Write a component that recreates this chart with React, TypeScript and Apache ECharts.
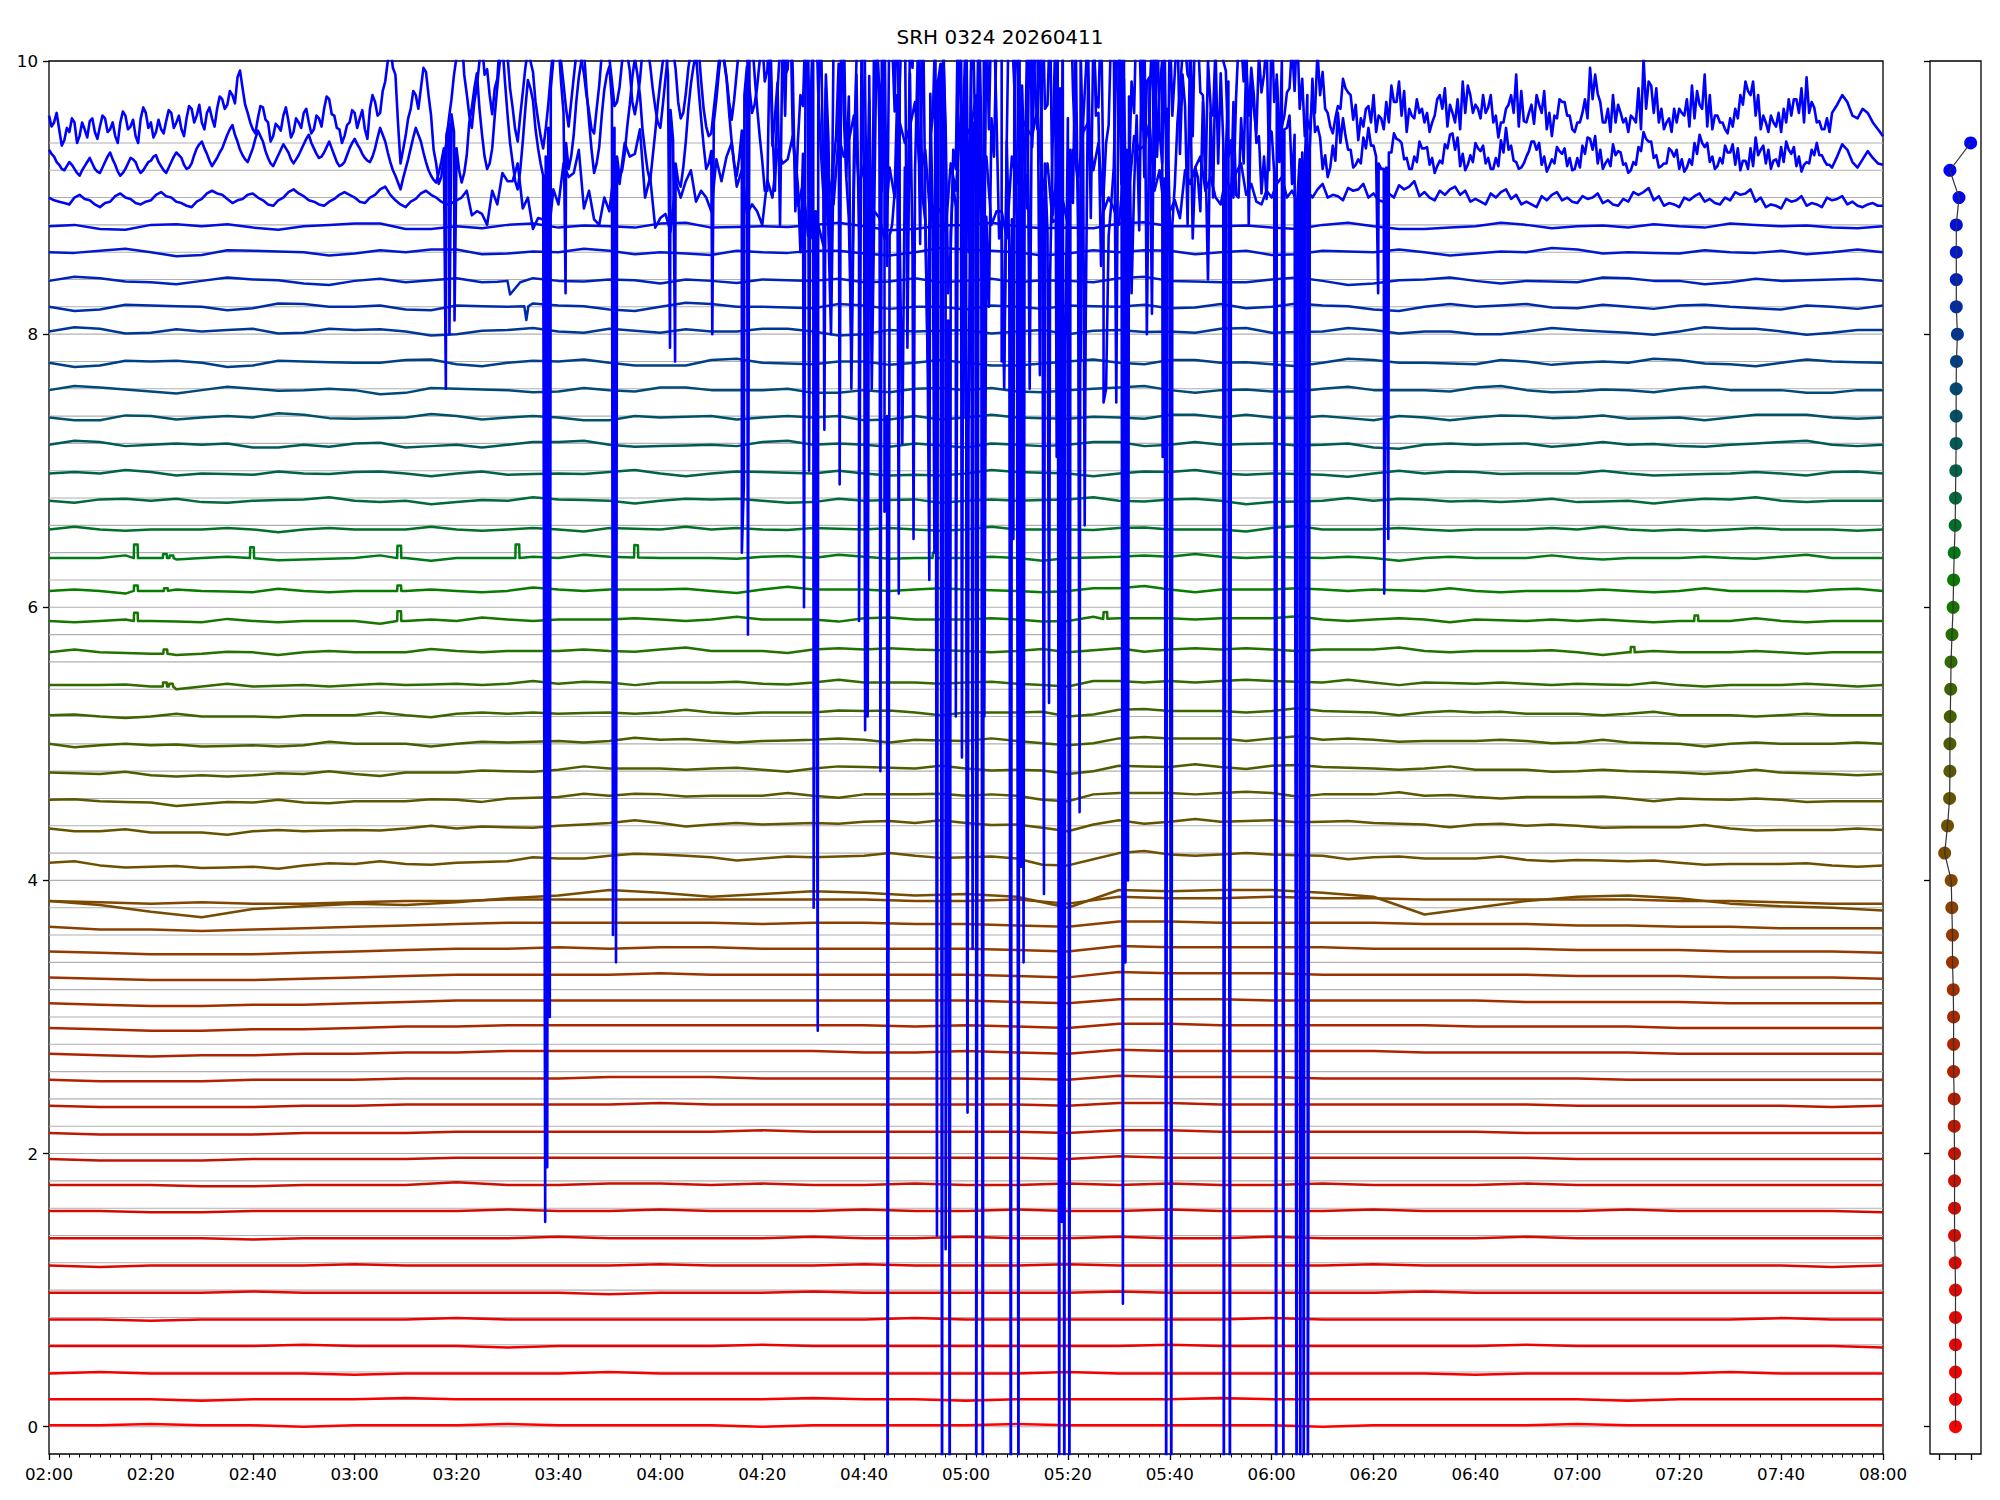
import { useEffect, useRef } from "react";
import * as echarts from "echarts";

const TITLE = "SRH 0324 20260411";
const Y_TICKS = [0, 2, 4, 6, 8, 10];
const SIDE_X_TICKS = [-1, 0, 1];

// nominal channel positions (grid lines and side-panel dots), bottom to top
const channelNominal = [
  0, 0.2, 0.4, 0.6, 0.8, 1.0, 1.2, 1.4, 1.6, 1.8, 2.0, 2.2, 2.4, 2.6, 2.8, 3.0,
  3.2, 3.4, 3.6, 3.8, 4.0, 4.2, 4.4, 4.6, 4.8, 5.0, 5.2, 5.4, 5.6, 5.8, 6.0, 6.2,
  6.4, 6.6, 6.8, 7.0, 7.2, 7.4, 7.6, 7.8, 8.0, 8.2, 8.4, 8.6, 8.8, 9.0, 9.2, 9.4,
];

// horizontal position of each channel's dot in the side panel
const dotX = [
  0, 0, 0, 0, 0, 0, -0.02, -0.06, -0.06, -0.06, -0.06, -0.08, -0.08, -0.12, -0.12, -0.12,
  -0.14, -0.19, -0.19, -0.23, -0.27, -0.68, -0.5, -0.37, -0.35, -0.35, -0.33, -0.3, -0.28, -0.22, -0.15, -0.12,
  -0.08, -0.02, 0, 0.02, 0.04, 0.04, 0.04, 0.06, 0.12, 0.05, 0.05, 0.05, 0.05, 0.22, -0.35, 0.95,
];

const channelColors = [
  "#ff0000", "#fa0000", "#f40000", "#ee0200", "#e80400", "#e20600", "#dc0800", "#d60a00",
  "#d00c00", "#ca1000", "#c41400", "#be1800", "#b81c00", "#b42000", "#ae2400", "#a82800",
  "#a22e00", "#9c3400", "#943a00", "#8c4000", "#824600", "#784c00", "#6e5000", "#645400",
  "#5a5800", "#505c00", "#466000", "#3c6400", "#306a00", "#247000", "#167600", "#087c00",
  "#007a14", "#007028", "#006a38", "#006248", "#005a58", "#005268", "#004a78", "#004088",
  "#003698", "#002caa", "#0022bc", "#0018ce", "#000ee0", "#0006f0", "#0000fa", "#0000ff",
];

// plotted level of the quiet channels 0..44 at 02:00
const traceLevel = [
  0.01, 0.2, 0.39, 0.59, 0.785, 0.98, 1.18, 1.38, 1.58, 1.77, 1.96, 2.15, 2.35, 2.54, 2.73, 2.92,
  3.1, 3.29, 3.48, 3.66, 3.85, 3.85, 4.13, 4.38, 4.59, 4.79, 5.0, 5.21, 5.43, 5.67, 5.9, 6.12,
  6.36, 6.57, 6.78, 6.98, 7.19, 7.39, 7.59, 7.79, 8.02, 8.2, 8.39, 8.6, 8.79,
];

// slow drift of channels 0..44, hundredths, every 10 minutes from 02:00 to 08:00
const slowDrift = [
  [0,0,1,0,0,-1,0,0,0,1, 0,0,0,0,-1,0,0,0,0,1, 0,0,0,0,0,-1,0,0,0,0, 1,0,0,0,0,0,0],
  [0,0,0,-1,0,0,0,1,0,0, 0,0,0,0,0,1,0,0,-1,0, 0,0,0,1,0,0,0,0,0,0, 0,-1,0,0,0,0,0],
  [0,1,0,0,0,0,-1,0,0,0, 0,1,0,0,0,0,0,0,0,0, 1,0,0,0,0,0,0,0,-1,0, 0,0,0,1,0,0,0],
  [0,0,0,0,0,1,0,0,0,-1, 0,0,0,0,1,0,0,0,0,0, 0,0,1,0,0,0,0,0,0,1, 0,0,0,0,0,0,-1],
  [0,0,-1,0,0,0,0,0,1,0, 0,0,0,0,0,0,0,1,0,0, 0,0,0,0,1,0,0,0,0,0, 0,0,0,0,1,0,0],
  [0,0,0,0,1,0,0,0,0,0, 0,-1,0,0,0,1,0,0,0,0, 0,1,0,0,0,0,0,1,0,0, 0,0,0,0,0,0,0],
  [0,-1,0,0,0,0,1,0,0,0, 0,0,1,0,0,0,1,0,0,0, 1,0,0,0,0,0,1,0,0,0, 0,0,0,0,0,-1,0],
  [0,0,0,0,-1,0,0,0,0,0, 1,0,0,0,0,1,0,0,1,0, 0,1,0,0,1,0,0,0,0,1, 0,0,0,0,0,0,0],
  [0,0,-1,-1,0,0,0,0,0,1, 0,0,1,0,0,0,1,0,0,1, 0,0,1,0,0,0,1,0,0,0, 0,1,0,0,0,0,-1],
  [0,0,0,-1,-1,0,0,0,2,0, 0,1,1,0,1,0,0,1,0,0, 1,0,1,0,0,1,0,0,0,1, 0,0,0,0,0,0,0],
  [0,-1,-1,-1,0,0,0,0,1,1, 1,1,1,1,1,1,1,1,1,1, 0,2,1,1,1,1,1,1,1,1, 0,0,0,0,0,0,0],
  [0,-1,-1,-1,-1,0,0,0,1,1, 1,1,1,1,2,1,1,1,1,1, 0,2,2,1,1,1,1,1,1,0, 0,0,0,0,0,0,0],
  [0,-1,-1,-1,-1,0,0,1,1,1, 1,1,2,1,1,1,1,1,1,1, 0,2,2,1,1,1,1,1,1,1, 0,0,0,0,0,-1,0],
  [0,-1,-1,-1,0,0,0,1,1,1, 1,2,2,2,1,1,1,1,1,1, 0,3,2,2,2,1,1,1,1,1, 1,0,0,0,0,0,0],
  [0,-1,-2,-1,-1,0,0,1,1,2, 2,2,2,2,2,2,1,1,2,1, 0,3,2,2,2,2,2,1,1,1, 1,1,0,0,0,0,0],
  [0,-1,-2,-2,-1,-1,0,1,1,2, 2,2,2,2,2,2,2,1,2,1, 0,3,3,2,2,2,2,2,1,1, 1,1,0,0,0,0,0],
  [0,-1,-2,-2,-1,-1,0,1,2,2, 2,2,2,2,2,2,2,2,2,1, 0,3,3,3,2,2,2,2,2,1, 1,1,1,0,0,0,0],
  [0,-1,-2,-2,-2,-1,0,1,2,2, 2,2,3,2,2,2,2,2,2,1, 0,4,3,3,3,2,2,2,2,2, 1,1,1,0,0,0,-1],
  [0,-1,-2,-2,-2,-1,0,1,2,2, 3,2,3,3,2,2,2,2,2,1, 0,4,3,3,3,3,2,2,2,2, 1,1,1,0,0,0,-1],
  [0,-2,-2,-3,-2,-1,0,1,2,3, 3,3,3,3,2,3,3,2,2,1, 0,4,4,3,3,3,3,2,2,2, 1,1,0,0,-1,-1,-1],
  [0,-1,-2,-1,-2,-2,-1,0,0,1, 1,1,1,1,1,1,1,0,0,1, -2,3,2,2,3,2,2,1,1,1, 1,1,0,0,-1,-2,-2],
  [0,-3,-8,-12,-6,-4,-2,-3,-1,2, 4,8,6,3,5,7,6,4,5,3, -5,8,7,8,8,6,3,-10,-5,0, 3,4,2,-2,-4,-5,-7],
  [0,-2,-3,-4,-3,-2,-1,-1,0,1, 3,5,6,4,3,4,5,5,4,3, -2,7,6,6,6,5,4,3,3,2, 2,1,0,-1,-1,-2,-2],
  [0,-2,-3,-3,-2,-2,-1,0,0,1, 2,4,4,3,3,4,5,4,4,3, -2,6,5,5,6,5,4,3,3,2, 2,1,1,0,-1,-1,-1],
  [0,-1,-2,-3,-2,-2,-1,-1,0,1, 2,3,4,3,3,3,4,4,3,3, -1,5,5,5,5,4,4,3,2,2, 2,1,1,0,0,-1,-1],
  [0,-1,-2,-2,-2,-1,-1,0,0,1, 2,3,3,3,2,3,4,3,3,2, -1,5,4,4,5,4,3,3,2,2, 1,1,0,0,0,-1,-1],
  [0,-1,-1,-2,-1,-1,0,0,0,1, 2,2,3,2,2,3,3,3,2,2, -1,4,4,4,4,3,3,2,2,2, 1,1,0,0,0,0,0],
  [0,-1,-1,-1,-1,0,0,0,1,1, 1,2,2,2,2,2,3,2,2,2, -1,4,3,3,3,3,2,2,2,1, 1,1,0,0,0,0,0],
  [0,0,-1,-1,-1,0,0,0,1,1, 1,2,2,2,1,2,2,2,2,1, -1,3,3,3,3,2,2,2,1,1, 1,0,0,0,0,0,0],
  [0,0,-1,-1,0,0,0,0,1,1, 1,1,2,1,1,2,2,2,1,1, 0,3,2,2,2,2,2,1,1,1, 0,0,0,0,0,0,0],
  [0,0,0,-1,0,0,0,0,0,1, 1,1,1,1,1,1,2,1,1,1, 0,2,2,2,2,1,1,1,1,0, 0,0,0,0,0,0,0],
  [0,0,0,0,-1,0,0,0,0,0, 1,1,1,0,1,1,1,1,1,0, 0,2,1,1,1,1,1,0,0,0, 0,0,0,0,0,1,0],
  [0,0,0,0,0,-1,0,0,0,0, 0,1,0,0,1,0,1,0,0,0, 0,1,1,1,1,0,0,0,0,0, 0,0,0,0,1,0,0],
  [0,0,0,0,0,0,0,0,0,0, 0,1,0,0,0,1,0,0,0,0, 0,1,0,0,1,0,0,0,0,0, 0,0,0,0,0,0,0],
  [0,1,0,-1,0,1,0,0,-1,0, 1,0,0,1,0,-1,0,1,0,0, 1,0,1,0,-1,0,0,1,0,0, -1,0,0,1,0,0,0],
  [0,0,1,0,-1,0,1,0,0,-1, 0,1,0,0,1,0,0,-1,0,1, 0,0,1,0,0,-1,0,0,1,0, 0,0,-1,0,0,1,0],
  [0,2,0,0,-2,0,1,-2,0,0, 2,0,-1,0,2,0,0,1,-2,0, 0,2,0,0,1,0,-2,0,0,1, 0,0,-1,0,2,0,0],
  [0,-2,1,0,0,2,-1,0,1,0, 0,-2,0,1,0,0,-2,1,0,0, -1,0,2,0,0,1,-2,0,0,1, 0,-1,0,0,2,0,0],
  [0,2,-1,0,1,0,0,-2,1,0, -1,0,2,0,0,-2,0,1,0,-1, 0,2,0,0,-1,1,0,0,2,0, -1,0,1,0,0,-2,0],
  [0,-2,1,0,-2,1,0,2,-1,0, 1,0,-2,2,0,-1,1,0,0,-2, 1,0,2,0,-1,0,2,0,-1,1, 0,0,2,-1,0,1,0],
  [0,2,-1,0,2,-1,1,0,-2,1, 0,2,-1,0,2,0,-2,0,1,0, -2,1,0,2,-1,0,1,0,-2,0, 1,-1,0,2,0,-1,1],
  [0,-2,1,0,-1,2,0,-2,1,0, 1,-2,0,2,0,-1,1,0,-2,0, 1,0,-1,2,0,1,-2,0,0,2, -1,0,1,0,-2,0,1],
  [0,2,-1,0,1,-2,0,-1,2,0, 0,1,-2,0,1,0,-1,2,0,-1, 0,2,0,-1,1,0,-2,1,0,0, -1,2,0,-1,0,1,0],
  [0,1,0,-2,1,0,-1,0,2,-1, 0,1,0,-2,0,1,-1,0,2,0, -1,0,1,0,-2,1,0,0,-1,0, 2,0,-1,0,1,0,0],
  [0,-2,1,0,-1,0,2,-2,0,1, -1,0,2,-1,0,1,0,-2,1,0, -1,2,0,0,-1,1,0,-2,0,1, 0,-1,0,2,0,-1,0],
];

// short-period ripple of channels 22..44, hundredths, at 5, 15, ..., 355 minutes
const rippleFirst = 22;
const ripple = [
  [2,-1,1,0,-2,1,2,-1,0,2, -1,1,0,-2,1,0,2,-1,1,-2, 0,2,-1,1,0,-2,1,0,2,-1, 0,1,-1,0,1,-1],
  [-1,2,0,-2,1,0,-1,2,1,-1, 0,2,-2,1,0,-1,1,2,-1,0, 1,-2,2,0,-1,1,0,-2,1,1, -1,0,2,-1,0,1],
  [1,0,-2,1,2,-1,0,1,-2,0, 2,1,-1,0,2,-2,0,1,1,-1, 2,0,-1,1,-2,0,2,1,-1,0, 1,-2,0,1,-1,0],
  [0,2,-1,-1,1,2,-2,0,1,-1, 2,0,-1,1,-2,1,0,2,-1,1, -1,0,2,-2,1,0,-1,2,0,-1, 1,0,-1,2,0,-1],
  [-2,1,1,0,-1,2,0,-2,1,0, -1,2,1,-1,0,1,-2,0,2,0, -1,1,0,-2,2,1,-1,0,1,-1, 2,0,-2,1,0,1],
  [1,-1,2,0,-1,0,2,-2,1,1, 0,-1,2,-1,0,1,1,-2,0,2, -1,1,0,-1,2,0,-2,1,1,0, -1,2,0,-1,1,0],
  [0,1,-2,2,0,-1,1,0,-1,2, 1,-2,0,1,-1,2,0,-1,1,0, 2,-1,-1,1,0,2,-2,0,1,-1, 0,2,-1,0,1,-1],
  [2,0,-1,1,-2,1,0,2,-1,0, 1,-1,2,0,-2,1,1,0,-1,2, 0,-2,1,1,-1,0,2,-1,0,1, -2,1,0,1,-1,0],
  [-1,1,0,2,-1,0,-2,1,2,-1, 0,1,-1,2,0,-2,1,0,1,-1, 2,0,-1,0,2,-1,1,-2,0,1, 1,-1,0,2,-1,0],
  [1,-2,1,0,2,-1,0,1,-1,2, -1,0,1,-2,2,0,-1,1,0,-1, 1,2,-2,0,1,-1,0,2,-1,0, 1,-1,2,0,-1,1],
  [0,2,-1,1,-1,0,2,-2,0,1, 2,-1,0,-1,1,2,-1,0,1,-2, 0,1,2,-1,0,1,-2,1,0,2, -1,0,1,-1,2,0],
  [2,-1,0,1,-2,1,0,2,-1,1, -2,0,2,1,-1,0,1,-1,2,0, -1,1,0,-2,2,0,1,-1,0,1, 2,-1,-1,1,0,-1],
  [-2,1,2,-1,0,2,-1,-2,1,2, 0,-2,1,1,-1,2,0,-2,1,0, 2,-1,1,-2,0,2,1,-1,-1,2, 0,-2,1,2,-1,0],
  [1,2,-2,0,2,-1,1,-2,2,0, -1,2,-2,1,0,2,-1,-1,2,0, -2,1,2,-1,0,-2,2,1,-1,0, 2,-1,0,1,-2,1],
  [2,-2,1,2,-1,-2,2,0,-2,1, 2,-1,0,-2,2,1,-2,0,2,-1, 1,-2,2,0,-1,2,-2,1,0,-2, 2,1,-1,0,2,-1],
  [-1,2,-2,1,2,-1,0,2,-2,1, -1,2,0,-2,1,2,-1,-2,2,0, 1,-2,1,2,-1,0,2,-2,1,-1, 2,0,-2,1,1,-1],
  [2,0,-2,2,-1,1,-2,2,0,-1, 2,-2,1,0,2,-1,-2,1,2,-1, 0,2,-2,1,-1,2,0,-2,2,-1, 1,-2,2,0,-1,1],
  [-2,2,1,-2,2,0,-1,2,-2,1, 2,-1,-2,2,0,1,-2,2,-1,0, 2,-2,1,1,-2,2,-1,0,2,-2, 1,2,-1,-2,2,0],
  [2,-2,2,0,-2,2,1,-2,1,2, -2,0,2,-1,1,-2,2,0,-2,2, 1,-1,-2,2,0,2,-2,1,-1,2, 0,-2,2,1,-2,1],
  [-2,2,0,-2,2,-1,2,-2,0,2, 1,-2,2,-1,0,2,-2,1,2,-2, 0,2,-1,-2,2,1,-2,2,0,-1, 2,-2,1,0,2,-2],
  [2,-1,-2,2,1,-2,2,0,-2,2, -1,1,2,-2,0,2,-1,-2,2,1, -2,2,0,-1,2,-2,1,2,-2,0, 2,-1,-2,2,0,1],
  [-1,2,-2,2,0,-2,2,1,-2,1, 2,-2,0,2,-1,1,-2,2,0,-2, 2,1,-2,2,-1,0,2,-2,1,2, -2,0,2,-1,-2,2],
  [2,-2,1,2,-2,0,2,-1,-2,2, 1,-2,2,0,-1,2,-2,1,2,-1, -2,2,0,1,-2,2,-1,0,2,-2, 1,2,-2,0,1,-1],
];

// channel 45 (level ~9.0), hundredths, even minutes
const ch45Values = [
  900,897,895,902,898,893,897,903,899,895, 898,904,900,896,893,899,905,902,896,899,
  903,898,894,900,906,901,897,894,899,904, 900,896,902,908,898,893,899,905,900,895,
  898,
  905,890,880,895,912,925,900,885,870,895, 915,935,905,880,890,910,930,950,915,885,
  875,900,920,905,890,912,940,920,895,880, 900,925,945,910,880,865,895,930,960,925,
  890,870,900,940,970,935,895,875,905,945, 975,930,890,870,910,950,965,925,885,880,
  915,955,940,900,880,905,935,955,920,890, 885,910,930,915,895,905,925,910,895,900,
  915,905,895,900,910,
  902,898,905,910,903,897,900,906,912,904, 898,902,908,905,899,895,900,906,902,897,
  893,898,904,900,896,899,903,898,894,897, 902,907,901,896,893,898,903,899,895,898,
  902,906,900,895,892,897,901,896,893,898, 901,897,893,896,894,
];
// channel 45, odd minutes (1, 3, ..., 359)
const ch45Odd = [
  898,896,900,899,895,896,901,900,896,897, 902,901,897,894,897,903,903,899,898,902,
  900,895,898,904,903,898,895,897,902,902, 897,900,906,902,895,897,903,902,897,896,
  900,887,888,905,918,912,892,877,884,906, 925,918,892,884,900,922,940,932,900,878,
  888,912,912,897,900,928,930,908,888,890, 913,935,928,894,872,880,915,945,942,908,
  880,885,922,955,952,915,885,890,925,960, 952,910,880,890,930,958,945,905,882,898,
  935,948,920,890,892,920,945,938,905,888, 898,920,922,905,900,915,918,902,897,905,
  910,900,897,905,906,
  900,901,907,906,900,898,903,909,908,901, 900,905,906,902,897,897,903,904,899,895,
  895,901,902,898,897,901,900,896,895,899, 904,904,898,894,895,900,901,897,896,900,
  904,903,897,893,894,899,898,894,895,900, 899,895,894,895,894,
];

// channel 46 (level ~9.25), hundredths, every minute
const ch46Values = [
  935,930,924,920,926,921,916,923,929,921, 918,926,933,924,916,921,929,926,918,923,
  927,931,923,918,926,933,929,921,925,936, 941,932,923,929,936,946,953,941,931,926,
  936,949,941,929,923,931,939,933,925,931, 939,946,936,929,933,941,931,923,926,936,
  943,936,929,926,936,951,941,926,916,906, 921,936,951,941,926,916,911,926,946,961,
  936,911,931,966,991,946,921,936,981,1012, 961,926,906,941,986,971,936,916,951,1001,
  1015,962,921,946,988,1008,956,918,937,979, 996,951,915,932,968,1002,975,934,912,948,
  985,1012,964,925,908,941,983,1005,958,921, 934,972,1010,987,941,916,949,996,1018,966,
  927,905,938,984,1021,994,943,909,932,988, 1026,968,902,874,925,998,1031,974,906,868,
  913,989,1036,979,910,872,904,982,1040,991, 921,866,897,976,1035,998,928,875,893,968,
  1029,1003,934,880,886,958,1022,1008,941,884, 879,949,1018,1012,950,891,874,939,1010,1016,
  958,896,871,930,1003,1021,966,902,872,922, 995,1025,974,908,876,915,988,1019,980,914,
  883,910,979,1012,986,922,890,905,968,1006, 991,931,897,902,958,999,995,940,903,899,
  948,990,1000,951,910,897,933,975,987,952, 921,915,938,962,958,935,922,928,944,951,
  938,925,921,933,947,942,928,921,930,941, 936,924,918,927,939,946,935,923,920,931,
  940,934,925,921,929,942,951,938,926,922, 930,941,935,924,919,928,937,932,923,920,
  929,938,944,935,925,921,928,939,934,924, 918,926,937,948,941,929,922,925,936,930,
  921,919,928,940,946,937,926,921,929,938, 933,924,920,927,936,944,935,925,921,928,
  937,941,932,923,919,926,935,940,931,924, 922,930,939,935,926,922,928,934,929,925,
  924,
];
// channel 46, half-minute samples (0.5 .. 359.5)
const ch46Half = [
  932,926,921,923,924,918,920,926,925,919, 922,930,928,919,918,925,928,921,920,926,
  930,926,920,922,930,931,924,922,931,939, 936,927,926,933,941,950,946,935,928,931,
  943,945,934,925,927,935,936,928,928,935, 943,940,932,930,937,936,926,924,931,940,
  939,932,927,930,944,946,933,920,911,914, 928,944,946,933,920,913,918,936,954,948,
  920,918,955,980,965,930,925,960,1000,985, 940,912,920,965,980,950,925,930,980,1010,
  985,940,930,970,1000,980,935,925,960,990, 970,930,920,952,988,990,950,920,930,968,
  1000,990,942,912,922,965,996,980,938,925, 955,992,1000,962,925,930,975,1010,990,945,
  905,1020,960,880,990,1045,930,860,1005,970, 890,1035,980,800,945,1050,915,760,990,1030,
  940,825,1010,1055,740,880,975,1040,790,860, 1000,1060,770,875,985,1030,810,910,1045,965,
  730,955,1025,1000,820,930,1050,780,860,995, 1040,905,760,990,1035,925,840,1012,980,790,
  935,1030,1008,810,885,975,1040,760,895,1000, 1020,935,830,960,1010,985,815,930,1000,965,
  880,955,1005,990,870,915,970,1000,900,925, 940,985,970,900,925,960,975,945,930,950,
  918,926,950,960,946,928,925,936,948,944, 931,922,927,940,945,935,924,925,936,938,
  930,921,922,933,943,940,929,921,926,936, 937,929,923,925,936,947,944,932,924,926,
  936,938,929,921,923,933,935,927,921,925, 934,941,940,930,923,925,934,936,929,921,
  922,932,943,945,935,925,923,931,933,925, 920,924,934,943,941,931,923,925,934,935,
  928,922,924,932,940,940,930,923,925,933, 939,936,927,921,923,931,938,935,927,923,
  926,935,937,930,924,925,931,931,927,924,
];

// channel 47 (level ~9.55), hundredths, every minute
const ch47Values = [
  960,955,950,942,948,955,945,950,956,948, 952,958,950,945,955,960,952,945,958,962,
  955,948,950,956,962,955,950,958,965,960, 955,962,958,965,972,968,975,988,980,962,
  950,958,966,955,945,952,960,956,948,955, 962,955,950,958,965,972,960,950,945,955,
  962,958,950,965,970,962,985,1012,990,925, 945,965,975,980,992,960,925,915,940,972,
  1003,1021,976,951,982,1013,994,961,987,1032, 1004,966,941,977,1008,992,957,936,968,1011,
  1026,983,952,988,1017,991,963,947,982,1022, 1002,967,981,1013,993,961,986,1024,997,966,
  951,987,1018,994,958,976,1007,1033,986,952, 947,982,1013,988,957,992,1027,1003,962,981,
  1016,993,952,978,1022,1043,991,941,967,1012, 1038,977,903,942,1013,1044,962,884,931,1021,
  1047,971,893,952,1032,1052,963,872,922,1013, 1042,982,883,943,1031,1048,953,862,921,1027,
  1052,993,903,951,1037,1043,957,883,941,1022, 1048,982,892,937,1027,1053,968,887,932,1017,
  1043,978,907,956,1032,1047,962,902,953,1023, 1037,987,917,962,1027,1042,972,913,948,1012,
  1033,992,932,967,1022,1038,977,933,962,1013, 1032,993,942,972,1017,1032,982,947,977,1016,
  1031,987,952,977,1012,1027,987,957,972,1007, 992,962,947,967,987,977,957,942,952,967,
  975,960,950,955,970,985,978,965,958,962, 955,948,960,975,980,968,955,950,962,975,
  968,958,962,975,960,955,965,975,990,978, 955,968,975,962,950,945,958,970,960,950,
  955,962,958,972,976,955,965,975,968,955, 948,958,980,1002,985,962,955,950,958,965,
  965,960,952,958,968,990,975,960,955,950, 958,965,975,985,975,960,950,955,960,952,
  948,955,960,972,980,988,970,955,950,958, 962,968,975,970,960,958,965,962,955,950,
  945,
];
// channel 47, half-minute samples (0.5 .. 359.5)
const ch47Half = [
  952,962,938,951,958,940,955,944,958,943, 960,948,955,940,963,950,957,940,966,951,
  944,957,947,964,951,960,945,967,955,968, 950,966,952,974,965,978,969,993,968,955,
  947,967,957,941,954,949,966,944,958,951, 965,947,960,952,974,961,951,940,953,964,
  951,964,943,975,960,978,1000,995,955,935, 958,978,965,995,975,935,910,930,958,990,
  1015,990,960,970,1000,990,975,980,1015,1010, 980,950,960,995,1000,970,945,950,990,1020,
  1000,965,970,1005,1000,975,950,965,1005,1008, 985,970,1000,1005,970,972,1008,1010,980,955,
  968,1005,1008,970,962,995,1022,1010,965,945, 965,1000,1002,970,972,1012,1018,980,968,1000,
  985,1040,905,1010,960,1055,890,975,1030,870, 1045,935,990,820,1020,1060,915,790,1000,1050,
  880,760,1035,905,850,1015,1065,720,870,995, 1050,900,780,960,1040,1010,830,935,1058,740,
  860,1005,1045,800,950,1030,870,760,1062,980, 845,920,1048,1000,770,965,1035,905,820,1010,
  1055,930,780,990,1042,960,850,940,1025,750, 910,870,985,1045,950,800,1015,1038,925,860,
  960,1030,990,880,945,1022,975,840,960,1010, 1000,930,900,1015,985,880,965,1005,990,920,
  970,950,960,980,978,965,945,950,962,975, 965,952,958,965,980,975,968,958,965,955,
  948,958,970,982,970,960,948,960,972,965, 962,955,972,965,952,962,972,985,982,962,
  965,975,966,955,944,955,968,962,952,956, 962,954,968,978,962,960,972,970,960,948,
  955,972,995,990,970,955,948,955,962,958, 960,955,950,965,982,980,965,955,948,955,
  962,972,982,978,965,952,950,960,955,947, 952,958,968,978,985,975,960,948,955,962,
  965,972,972,962,955,962,966,956,950,948,
];

// deep blue drops of channel 46: minutes after 02:00 and the value reached
const dipTime = [
  77.9, 78.6, 79.6, 97.4, 97.8, 98.3, 101.4, 110.7, 111.3, 121.9, 122.9, 130.2, 136, 136.4, 137.2, 148.2,
  149.2, 150.1, 150.9, 152.2, 155.2, 159, 160.2, 160.7, 163.2, 164, 164.6, 166.8, 169.7, 172.8, 173.8, 174.3,
  175.3, 176, 176.8, 178, 179.2, 180.1, 180.3, 181.3, 182, 183.3, 183.6, 187, 188.8, 189.3, 190.3, 190.8,
  191.3, 195.3, 196.3, 197.8, 198.3, 198.8, 199.3, 200.3, 202.3, 203.3, 207, 210.8, 211.3, 211.8, 218.6, 219.3,
  220.3, 230.6, 231.8, 240.9, 242.3, 244.9, 245.6, 246.3, 247.1, 260.9, 262.1, 262.9,
];
const dipValue = [
  7.6, 8.0, 8.1, 1.5, 1.9, 3.0, 8.3, 3.6, 3.4, 7.9, 7.8, 8.0, 6.4, 6.9, 5.8, 6.0,
  7.0, 3.8, 2.9, 7.3, 6.9, 5.9, 5.1, 5.2, 4.8, 6.7, -1, 6.1, 6.5, 6.2, 6.4, 1.4,
  -1, 1.3, -1, 5.2, 4.9, 4.8, 2.3, 3.5, -1, -1, 5.2, 7.8, -1, 6.5, -1, 4.1,
  3.4, 3.9, 5.3, 7.1, -1, 1.5, -1, -1, 4.5, 6.6, 7.5, 0.9, 3.4, 4.0, 7.1, -1,
  -1, -1, -1, -1, -1, -1, -1, -1, -1, 8.3, 6.1, 6.5,
];

// short features on quiet channels: channel, minute, offset (hundredths)
const featureCh = [42, 42, 42, 41, 41, 41];
const featureT = [88, 90.5, 92.5, 93.3, 93.7, 94.1];
const featureDev = [-1, -10, -1, 0, -10, 0];

// short rectangular pulses on green channels: channel, minute, height (hundredths)
const pulseCh = [32, 32, 32, 32, 32, 32, 32, 32, 31, 31, 31, 30, 30, 30, 30, 29, 29, 28, 28];
const pulseT = [16.7, 22.4, 23.7, 39.5, 68.4, 91.6, 114.9, 173.5, 16.7, 22.6, 68.4, 16.7, 68.4, 207, 323, 22.5, 310.5, 22.4, 23.6];
const pulseH = [10, 3, 2, 8, 9, 10, 9, 4, 4, 2, 4, 6, 7, 5, 4, 3, 4, 3, 2];

function timeLabel(v: number): string {
  const m = 120 + Math.round(v);
  const h = Math.floor(m / 60);
  const mm = m % 60;
  return String(h).padStart(2, "0") + ":" + String(mm).padStart(2, "0");
}

function interp(pts: number[][], t: number): number {
  if (t <= pts[0][0]) return pts[0][1];
  for (let i = 1; i < pts.length; i++) {
    if (pts[i][0] >= t) {
      const [x0, y0] = pts[i - 1];
      const [x1, y1] = pts[i];
      return y0 + ((y1 - y0) * (t - x0)) / (x1 - x0 || 1);
    }
  }
  return pts[pts.length - 1][1];
}

function addSamples(pts: number[][], values: number[], start: number, step: number) {
  values.forEach((v, i) => pts.push([start + i * step, v / 100]));
}

function buildTrace(c: number): number[][] {
  let base: number[][] = [];
  if (c < 45) {
    const dev = slowDrift[c];
    const step = 360 / (dev.length - 1);
    dev.forEach((d, i) => base.push([i * step, traceLevel[c] + d / 100]));
  } else {
    const src = c === 45 ? ch45Values : c === 46 ? ch46Values : ch47Values;
    const step = 360 / (src.length - 1);
    addSamples(base, src, 0, step);
  }
  let pts = base.slice();
  featureCh.forEach((ch, k) => {
    if (ch === c) pts.push([featureT[k], interp(base, featureT[k]) + featureDev[k] / 100]);
  });
  const r = ripple[c - rippleFirst];
  if (c >= rippleFirst && c < 45 && r) {
    r.forEach((d, i) => {
      const t = 5 + i * 10;
      pts.push([t, interp(base, t) + d / 100]);
    });
  }
  pulseCh.forEach((ch, k) => {
    if (ch !== c) return;
    const t = pulseT[k];
    const w = 0.7;
    const h = pulseH[k] / 100;
    const b0 = interp(base, t);
    const b1 = interp(base, t + w);
    pts = pts.filter((p) => p[0] < t - 0.1 || p[0] > t + w + 0.1);
    pts.push([t - 0.06, b0], [t, b0 + h], [t + w, b1 + h], [t + w + 0.06, b1]);
  });
  if (c === 45) addSamples(pts, ch45Odd, 1, 2);
  if (c === 46) {
    addSamples(pts, ch46Half, 0.5, 1);
    dipTime.forEach((t, k) => pts.push([t, dipValue[k]]));
  }
  if (c === 47) addSamples(pts, ch47Half, 0.5, 1);
  pts.sort((a, b) => a[0] - b[0]);
  return pts;
}

const FONT = "DejaVu Sans";

export default function App() {
  const ref = useRef<HTMLDivElement>(null);
  useEffect(() => {
    if (!ref.current) return;
    const chart = echarts.init(ref.current, undefined, { renderer: "svg" });

    const gridSeries: any[] = channelNominal.map((v) => ({
      type: "line",
      xAxisIndex: 0,
      yAxisIndex: 0,
      data: [[0, v], [360, v]],
      symbol: "none",
      silent: true,
      z: 1,
      lineStyle: { color: "#b0b0b0", width: 1.1 },
    }));

    const traceSeries: any[] = channelNominal.map((_, c) => ({
      type: "line",
      xAxisIndex: 0,
      yAxisIndex: 0,
      data: buildTrace(c),
      symbol: "none",
      silent: true,
      z: 2,
      lineStyle: { color: channelColors[c], width: c >= 45 ? 2.6 : 2.5, join: "round" },
    }));

    const dotData = channelNominal.map((v, i) => ({
      value: [dotX[i], v],
      itemStyle: { color: channelColors[i], opacity: 1 },
    }));

    const option: any = {
      animation: false,
      backgroundColor: "#ffffff",
      title: {
        text: TITLE,
        left: 1000,
        top: 27,
        textAlign: "center",
        padding: 0,
        textStyle: { fontSize: 20, fontWeight: "normal", fontFamily: FONT, color: "#000" },
      },
      grid: [
        { left: 49, top: 61, width: 1834, height: 1393, show: true, borderColor: "#000", borderWidth: 1.3, outerBoundsMode: "none" },
        { left: 1930, top: 61, width: 51, height: 1393, show: true, borderColor: "#000", borderWidth: 1.3, outerBoundsMode: "none" },
      ],
      xAxis: [
        {
          gridIndex: 0,
          type: "value",
          min: 0,
          max: 360,
          interval: 20,
          axisLine: { show: false, onZero: false },
          axisTick: { show: true, length: 6, lineStyle: { color: "#000", width: 1.3 } },
          minorTick: { show: true, splitNumber: 10, length: 3.5, lineStyle: { color: "#000", width: 1 } },
          splitLine: { show: false },
          minorSplitLine: { show: false },
          axisLabel: { fontSize: 16.7, color: "#000", fontFamily: FONT, margin: 11, formatter: (v: number) => timeLabel(v) },
        },
        {
          gridIndex: 1,
          type: "value",
          min: -1.6,
          max: 1.6,
          axisLine: { show: false, onZero: false },
          axisTick: { show: true, length: 6, customValues: SIDE_X_TICKS, lineStyle: { color: "#000", width: 1.3 } },
          splitLine: { show: false },
          axisLabel: { show: false },
        },
      ],
      yAxis: [
        {
          gridIndex: 0,
          type: "value",
          min: -0.2,
          max: 10,
          axisLine: { show: false, onZero: false },
          axisTick: { show: true, length: 6, customValues: Y_TICKS, lineStyle: { color: "#000", width: 1.3 } },
          splitLine: { show: false },
          axisLabel: { customValues: Y_TICKS, fontSize: 16.7, color: "#000", fontFamily: FONT, margin: 11 },
        },
        {
          gridIndex: 1,
          type: "value",
          min: -0.2,
          max: 10,
          axisLine: { show: false, onZero: false },
          axisTick: { show: true, length: 6, customValues: Y_TICKS, lineStyle: { color: "#000", width: 1.3 } },
          splitLine: { show: false },
          axisLabel: { show: false },
        },
      ],
      series: [
        ...gridSeries,
        ...traceSeries,
        {
          type: "scatter",
          xAxisIndex: 1,
          yAxisIndex: 1,
          data: dotData,
          symbolSize: 13,
          silent: true,
          z: 3,
        },
        {
          type: "line",
          xAxisIndex: 1,
          yAxisIndex: 1,
          data: channelNominal.map((v, i) => [dotX[i], v]),
          symbol: "none",
          silent: true,
          z: 4,
          lineStyle: { color: "#333333", width: 1.2 },
        },
      ],
    };
    chart.setOption(option);
    return () => chart.dispose();
  }, []);
  return (
    <div
      ref={ref}
      style={{ position: "fixed", left: 0, top: 0, width: 2000, height: 1500, background: "#fff" }}
    />
  );
}
